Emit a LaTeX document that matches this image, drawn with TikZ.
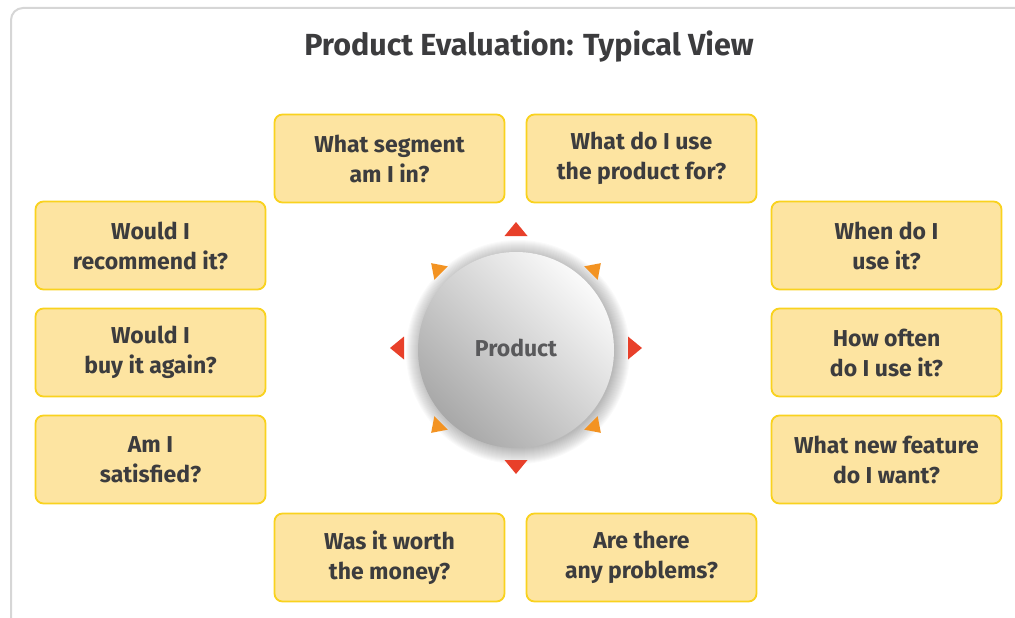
\documentclass[tikz,border=0pt]{standalone}
\usepackage{fontspec}
\setmainfont{Fira Sans}
\definecolor{boxfill}{HTML}{FDE4A1}
\definecolor{boxline}{HTML}{F9D21E}
\definecolor{txt}{HTML}{3C3C3E}
\definecolor{frame}{HTML}{D6D6D6}
\definecolor{arred}{HTML}{E8402A}
\definecolor{arorange}{HTML}{F39322}
\tikzset{
  qbox/.style={draw=boxline, line width=1.8pt, fill=boxfill, rounded corners=8pt,
    minimum width=230pt, minimum height=88pt, align=center, text=txt,
    font=\bfseries\fontsize{23}{30}\selectfont, inner sep=0pt},
  cardinal/.style={fill=arred},
  diag/.style={fill=arorange}
}
\begin{document}
\begin{tikzpicture}[x=1pt,y=-1pt]
\useasboundingbox (0,0) rectangle (1015,618);
% frame
\draw[frame, line width=2pt] (11,630) -- (11,20) arc[start angle=180,end angle=270,radius=12] -- (1030,8);
% title
\node[text=txt, font=\bfseries\fontsize{30.5}{34}\selectfont] (title) at (529,47) {Product Evaluation: Typical View};
% boxes
\node[qbox] (seg) at (389.5,158.5) {What segment\\am I in?};
\node[qbox] (use) at (641.5,158.5) {What do I use\\the product for?};
\node[qbox] (rec) at (150.5,245.5) {Would I\\recommend it?};
\node[qbox] (buy) at (150.5,352.5) {Would I\\buy it again?};
\node[qbox] (sat) at (150.5,459.5) {Am I\\satisfied?};
\node[qbox] (when) at (886.5,245.5) {When do I\\use it?};
\node[qbox] (often) at (886.5,352.5) {How often\\do I use it?};
\node[qbox] (feat) at (886.5,459.5) {What new feature\\do I want?};
\node[qbox] (worth) at (389.5,557.5) {Was it worth\\the money?};
\node[qbox] (prob) at (641.5,557.5) {Are there\\any problems?};
% circle shadow
\foreach \r in {1,...,16} {
  \fill[black, opacity=0.02] (518,352) circle (96+\r);
}
\shade[top color=gray!4, bottom color=gray!68, shading angle=-45] (516,350) circle (98);
\node[text=txt!85, font=\bfseries\fontsize{23}{26}\selectfont] (prod) at (516,348) {Product};
% triangles
\begin{scope}[shift={(516,348)}]
\foreach \a in {0,90,180,270} {
  \fill[cardinal, rotate=\a] (112,-11.5) -- (126,0) -- (112,11.5) -- cycle;
}
\foreach \a in {45,135,225,315} {
  \fill[diag, rotate=\a] (106,-9.5) -- (120,0) -- (106,9.5) -- cycle;
}
\end{scope}
\end{tikzpicture}
\end{document}
